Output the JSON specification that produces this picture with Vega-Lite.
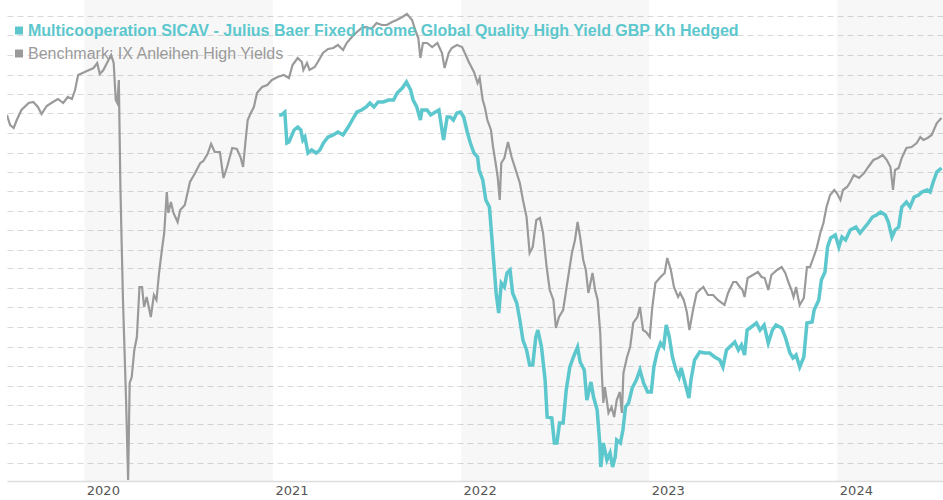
{
  "$schema": "https://vega.github.io/schema/vega-lite/v6.json",
  "autosize": "none",
  "width": 936,
  "height": 481,
  "padding": {"left": 7, "top": 0, "right": 0, "bottom": 19},
  "background": "#ffffff",
  "config": {
    "view": {"stroke": null},
    "legend": {
      "orient": "none",
      "legendX": 4,
      "legendY": 22.5,
      "padding": 0,
      "title": null,
      "symbolType": "square",
      "symbolSize": 64,
      "symbolStrokeWidth": 0,
      "labelFont": "Liberation Sans",
      "labelFontSize": 16,
      "labelOffset": 1,
      "labelLimit": 2000,
      "rowPadding": 7
    }
  },
  "datasets": {
    "bands": [
      {"start": "2020-01-01", "end": "2021-01-01"},
      {"start": "2022-01-01", "end": "2023-01-01"},
      {"start": "2024-01-01", "end": "2024-07-24"}
    ],
    "bench": [
      {"date": "2019-08-04", "value": 366}, {"date": "2019-08-10", "value": 356}, {"date": "2019-08-17", "value": 353},
      {"date": "2019-08-23", "value": 361}, {"date": "2019-09-01", "value": 371}, {"date": "2019-09-15", "value": 378},
      {"date": "2019-09-24", "value": 379}, {"date": "2019-10-03", "value": 374}, {"date": "2019-10-10", "value": 367},
      {"date": "2019-10-20", "value": 375}, {"date": "2019-11-01", "value": 379}, {"date": "2019-11-11", "value": 382},
      {"date": "2019-11-21", "value": 378}, {"date": "2019-11-30", "value": 384}, {"date": "2019-12-08", "value": 382},
      {"date": "2019-12-14", "value": 391}, {"date": "2019-12-20", "value": 406}, {"date": "2020-01-06", "value": 410},
      {"date": "2020-01-19", "value": 413}, {"date": "2020-01-26", "value": 418}, {"date": "2020-01-31", "value": 407},
      {"date": "2020-02-07", "value": 411}, {"date": "2020-02-15", "value": 419}, {"date": "2020-02-22", "value": 426},
      {"date": "2020-02-27", "value": 418}, {"date": "2020-03-02", "value": 381}, {"date": "2020-03-05", "value": 378},
      {"date": "2020-03-08", "value": 401}, {"date": "2020-03-11", "value": 294}, {"date": "2020-03-16", "value": 181},
      {"date": "2020-03-22", "value": 81}, {"date": "2020-03-26", "value": 1}, {"date": "2020-03-29", "value": 98},
      {"date": "2020-04-02", "value": 104}, {"date": "2020-04-07", "value": 131}, {"date": "2020-04-12", "value": 144},
      {"date": "2020-04-17", "value": 194}, {"date": "2020-04-22", "value": 194}, {"date": "2020-04-26", "value": 174},
      {"date": "2020-05-01", "value": 184}, {"date": "2020-05-09", "value": 164}, {"date": "2020-05-15", "value": 186},
      {"date": "2020-05-20", "value": 181}, {"date": "2020-05-25", "value": 208}, {"date": "2020-05-31", "value": 233},
      {"date": "2020-06-04", "value": 248}, {"date": "2020-06-09", "value": 289}, {"date": "2020-06-12", "value": 268},
      {"date": "2020-06-17", "value": 279}, {"date": "2020-06-22", "value": 268}, {"date": "2020-06-30", "value": 259},
      {"date": "2020-07-05", "value": 271}, {"date": "2020-07-14", "value": 276}, {"date": "2020-07-24", "value": 299},
      {"date": "2020-08-03", "value": 308}, {"date": "2020-08-13", "value": 318}, {"date": "2020-08-19", "value": 320},
      {"date": "2020-08-27", "value": 327}, {"date": "2020-09-03", "value": 337}, {"date": "2020-09-10", "value": 329},
      {"date": "2020-09-20", "value": 329}, {"date": "2020-09-27", "value": 303}, {"date": "2020-10-04", "value": 314},
      {"date": "2020-10-14", "value": 333}, {"date": "2020-10-23", "value": 332}, {"date": "2020-10-30", "value": 324},
      {"date": "2020-11-04", "value": 314}, {"date": "2020-11-09", "value": 341}, {"date": "2020-11-13", "value": 361},
      {"date": "2020-11-19", "value": 368}, {"date": "2020-11-25", "value": 374}, {"date": "2020-12-01", "value": 388},
      {"date": "2020-12-11", "value": 394}, {"date": "2020-12-21", "value": 396}, {"date": "2020-12-30", "value": 401},
      {"date": "2021-01-10", "value": 404}, {"date": "2021-01-22", "value": 406}, {"date": "2021-02-01", "value": 403},
      {"date": "2021-02-08", "value": 416}, {"date": "2021-02-18", "value": 423}, {"date": "2021-02-26", "value": 419},
      {"date": "2021-03-01", "value": 411}, {"date": "2021-03-08", "value": 418}, {"date": "2021-03-13", "value": 411},
      {"date": "2021-03-23", "value": 414}, {"date": "2021-03-29", "value": 419}, {"date": "2021-04-08", "value": 428},
      {"date": "2021-04-18", "value": 432}, {"date": "2021-04-28", "value": 433}, {"date": "2021-05-07", "value": 436},
      {"date": "2021-05-17", "value": 431}, {"date": "2021-05-24", "value": 438}, {"date": "2021-06-03", "value": 444},
      {"date": "2021-06-13", "value": 449}, {"date": "2021-06-22", "value": 453}, {"date": "2021-07-01", "value": 454},
      {"date": "2021-07-11", "value": 452}, {"date": "2021-07-21", "value": 458}, {"date": "2021-07-31", "value": 456},
      {"date": "2021-08-10", "value": 456}, {"date": "2021-08-20", "value": 459}, {"date": "2021-08-29", "value": 461},
      {"date": "2021-09-09", "value": 464}, {"date": "2021-09-18", "value": 467}, {"date": "2021-09-28", "value": 461},
      {"date": "2021-10-04", "value": 451}, {"date": "2021-10-10", "value": 443}, {"date": "2021-10-14", "value": 423},
      {"date": "2021-10-19", "value": 438}, {"date": "2021-10-27", "value": 438}, {"date": "2021-11-06", "value": 434},
      {"date": "2021-11-16", "value": 438}, {"date": "2021-11-25", "value": 428}, {"date": "2021-11-30", "value": 413},
      {"date": "2021-12-08", "value": 428}, {"date": "2021-12-14", "value": 433}, {"date": "2021-12-24", "value": 436},
      {"date": "2022-01-03", "value": 434}, {"date": "2022-01-10", "value": 426}, {"date": "2022-01-16", "value": 419},
      {"date": "2022-01-26", "value": 409}, {"date": "2022-02-02", "value": 398}, {"date": "2022-02-06", "value": 403},
      {"date": "2022-02-12", "value": 381}, {"date": "2022-02-16", "value": 374}, {"date": "2022-02-21", "value": 361},
      {"date": "2022-02-28", "value": 351}, {"date": "2022-03-04", "value": 334}, {"date": "2022-03-09", "value": 318},
      {"date": "2022-03-13", "value": 304}, {"date": "2022-03-17", "value": 281}, {"date": "2022-03-20", "value": 318},
      {"date": "2022-03-26", "value": 323}, {"date": "2022-04-02", "value": 339}, {"date": "2022-04-09", "value": 324},
      {"date": "2022-04-17", "value": 311}, {"date": "2022-04-25", "value": 298}, {"date": "2022-05-01", "value": 281},
      {"date": "2022-05-08", "value": 264}, {"date": "2022-05-14", "value": 228}, {"date": "2022-05-20", "value": 234},
      {"date": "2022-05-27", "value": 261}, {"date": "2022-06-03", "value": 263}, {"date": "2022-06-09", "value": 248},
      {"date": "2022-06-16", "value": 214}, {"date": "2022-06-22", "value": 191}, {"date": "2022-06-29", "value": 181},
      {"date": "2022-07-04", "value": 153}, {"date": "2022-07-10", "value": 164}, {"date": "2022-07-18", "value": 171},
      {"date": "2022-07-26", "value": 198}, {"date": "2022-08-04", "value": 228}, {"date": "2022-08-10", "value": 241},
      {"date": "2022-08-15", "value": 259}, {"date": "2022-08-20", "value": 244}, {"date": "2022-08-26", "value": 221},
      {"date": "2022-08-31", "value": 211}, {"date": "2022-09-05", "value": 188}, {"date": "2022-09-09", "value": 198},
      {"date": "2022-09-13", "value": 208}, {"date": "2022-09-18", "value": 191}, {"date": "2022-09-23", "value": 181},
      {"date": "2022-09-28", "value": 148}, {"date": "2022-10-01", "value": 108}, {"date": "2022-10-04", "value": 78},
      {"date": "2022-10-07", "value": 94}, {"date": "2022-10-14", "value": 68}, {"date": "2022-10-20", "value": 74},
      {"date": "2022-10-25", "value": 64}, {"date": "2022-10-30", "value": 81}, {"date": "2022-11-05", "value": 89},
      {"date": "2022-11-09", "value": 68}, {"date": "2022-11-12", "value": 108}, {"date": "2022-11-19", "value": 124},
      {"date": "2022-11-25", "value": 134}, {"date": "2022-12-01", "value": 158}, {"date": "2022-12-09", "value": 164},
      {"date": "2022-12-14", "value": 174}, {"date": "2022-12-20", "value": 151}, {"date": "2022-12-26", "value": 149},
      {"date": "2023-01-02", "value": 144}, {"date": "2023-01-07", "value": 174}, {"date": "2023-01-13", "value": 198},
      {"date": "2023-01-23", "value": 204}, {"date": "2023-01-31", "value": 208}, {"date": "2023-02-05", "value": 223},
      {"date": "2023-02-12", "value": 211}, {"date": "2023-02-18", "value": 194}, {"date": "2023-02-26", "value": 184},
      {"date": "2023-03-02", "value": 188}, {"date": "2023-03-09", "value": 181}, {"date": "2023-03-15", "value": 169},
      {"date": "2023-03-20", "value": 151}, {"date": "2023-03-27", "value": 171}, {"date": "2023-04-03", "value": 188},
      {"date": "2023-04-09", "value": 191}, {"date": "2023-04-16", "value": 194}, {"date": "2023-04-25", "value": 186},
      {"date": "2023-05-05", "value": 186}, {"date": "2023-05-14", "value": 181}, {"date": "2023-05-27", "value": 176},
      {"date": "2023-06-03", "value": 188}, {"date": "2023-06-13", "value": 199}, {"date": "2023-06-19", "value": 199},
      {"date": "2023-06-26", "value": 194}, {"date": "2023-07-01", "value": 191}, {"date": "2023-07-05", "value": 184},
      {"date": "2023-07-11", "value": 203}, {"date": "2023-07-21", "value": 206}, {"date": "2023-07-31", "value": 209},
      {"date": "2023-08-07", "value": 204}, {"date": "2023-08-13", "value": 203}, {"date": "2023-08-20", "value": 191},
      {"date": "2023-08-26", "value": 206}, {"date": "2023-09-06", "value": 211}, {"date": "2023-09-15", "value": 214},
      {"date": "2023-09-22", "value": 208}, {"date": "2023-09-28", "value": 199}, {"date": "2023-10-04", "value": 191},
      {"date": "2023-10-08", "value": 184}, {"date": "2023-10-13", "value": 194}, {"date": "2023-10-17", "value": 183},
      {"date": "2023-10-20", "value": 176}, {"date": "2023-10-28", "value": 183}, {"date": "2023-11-03", "value": 214},
      {"date": "2023-11-09", "value": 214}, {"date": "2023-11-16", "value": 224}, {"date": "2023-11-22", "value": 233},
      {"date": "2023-11-29", "value": 248}, {"date": "2023-12-05", "value": 258}, {"date": "2023-12-11", "value": 274},
      {"date": "2023-12-18", "value": 286}, {"date": "2023-12-26", "value": 291}, {"date": "2023-12-31", "value": 288},
      {"date": "2024-01-07", "value": 281}, {"date": "2024-01-12", "value": 291}, {"date": "2024-01-20", "value": 294},
      {"date": "2024-01-26", "value": 299}, {"date": "2024-02-02", "value": 306}, {"date": "2024-02-12", "value": 303},
      {"date": "2024-02-22", "value": 308}, {"date": "2024-03-01", "value": 314}, {"date": "2024-03-11", "value": 321},
      {"date": "2024-03-20", "value": 323}, {"date": "2024-03-29", "value": 326}, {"date": "2024-04-06", "value": 321},
      {"date": "2024-04-13", "value": 314}, {"date": "2024-04-18", "value": 291}, {"date": "2024-04-22", "value": 311},
      {"date": "2024-04-29", "value": 313}, {"date": "2024-05-05", "value": 323}, {"date": "2024-05-14", "value": 333},
      {"date": "2024-05-24", "value": 334}, {"date": "2024-06-03", "value": 338}, {"date": "2024-06-10", "value": 344},
      {"date": "2024-06-16", "value": 341}, {"date": "2024-06-24", "value": 343}, {"date": "2024-07-02", "value": 346},
      {"date": "2024-07-12", "value": 358}, {"date": "2024-07-21", "value": 363}
    ],
    "fund": [
      {"date": "2021-01-13", "value": 366}, {"date": "2021-01-17", "value": 366}, {"date": "2021-01-24", "value": 369},
      {"date": "2021-01-28", "value": 338}, {"date": "2021-02-01", "value": 339}, {"date": "2021-02-11", "value": 351},
      {"date": "2021-02-18", "value": 354}, {"date": "2021-02-24", "value": 351}, {"date": "2021-02-28", "value": 341},
      {"date": "2021-03-04", "value": 344}, {"date": "2021-03-10", "value": 328}, {"date": "2021-03-17", "value": 331},
      {"date": "2021-03-26", "value": 328}, {"date": "2021-04-02", "value": 331}, {"date": "2021-04-09", "value": 338},
      {"date": "2021-04-18", "value": 344}, {"date": "2021-04-28", "value": 346}, {"date": "2021-05-07", "value": 349},
      {"date": "2021-05-17", "value": 346}, {"date": "2021-05-27", "value": 354}, {"date": "2021-06-06", "value": 363},
      {"date": "2021-06-13", "value": 369}, {"date": "2021-06-22", "value": 371}, {"date": "2021-07-01", "value": 374},
      {"date": "2021-07-08", "value": 378}, {"date": "2021-07-16", "value": 374}, {"date": "2021-07-24", "value": 379},
      {"date": "2021-08-03", "value": 379}, {"date": "2021-08-13", "value": 381}, {"date": "2021-08-23", "value": 381},
      {"date": "2021-08-30", "value": 388}, {"date": "2021-09-09", "value": 393}, {"date": "2021-09-17", "value": 399},
      {"date": "2021-09-25", "value": 391}, {"date": "2021-09-30", "value": 381}, {"date": "2021-10-07", "value": 374},
      {"date": "2021-10-14", "value": 361}, {"date": "2021-10-17", "value": 371}, {"date": "2021-10-27", "value": 371},
      {"date": "2021-11-03", "value": 366}, {"date": "2021-11-09", "value": 368}, {"date": "2021-11-19", "value": 371},
      {"date": "2021-11-28", "value": 341}, {"date": "2021-12-05", "value": 364}, {"date": "2021-12-11", "value": 364},
      {"date": "2021-12-17", "value": 361}, {"date": "2021-12-24", "value": 368}, {"date": "2021-12-31", "value": 369},
      {"date": "2022-01-06", "value": 364}, {"date": "2022-01-13", "value": 349}, {"date": "2022-01-19", "value": 338},
      {"date": "2022-01-26", "value": 328}, {"date": "2022-02-02", "value": 324}, {"date": "2022-02-05", "value": 311},
      {"date": "2022-02-12", "value": 301}, {"date": "2022-02-18", "value": 281}, {"date": "2022-02-25", "value": 274},
      {"date": "2022-03-01", "value": 248}, {"date": "2022-03-07", "value": 208}, {"date": "2022-03-10", "value": 188},
      {"date": "2022-03-15", "value": 168}, {"date": "2022-03-20", "value": 198}, {"date": "2022-03-26", "value": 194},
      {"date": "2022-03-31", "value": 208}, {"date": "2022-04-06", "value": 211}, {"date": "2022-04-11", "value": 188},
      {"date": "2022-04-19", "value": 178}, {"date": "2022-04-25", "value": 161}, {"date": "2022-05-01", "value": 141},
      {"date": "2022-05-08", "value": 131}, {"date": "2022-05-14", "value": 116}, {"date": "2022-05-20", "value": 116},
      {"date": "2022-05-26", "value": 144}, {"date": "2022-05-30", "value": 151}, {"date": "2022-06-06", "value": 134},
      {"date": "2022-06-13", "value": 101}, {"date": "2022-06-17", "value": 64}, {"date": "2022-06-26", "value": 63},
      {"date": "2022-07-01", "value": 38}, {"date": "2022-07-06", "value": 38}, {"date": "2022-07-11", "value": 58},
      {"date": "2022-07-18", "value": 58}, {"date": "2022-07-24", "value": 91}, {"date": "2022-07-31", "value": 114},
      {"date": "2022-08-07", "value": 124}, {"date": "2022-08-15", "value": 134}, {"date": "2022-08-20", "value": 119},
      {"date": "2022-08-28", "value": 111}, {"date": "2022-09-02", "value": 81}, {"date": "2022-09-10", "value": 99},
      {"date": "2022-09-15", "value": 84}, {"date": "2022-09-22", "value": 71}, {"date": "2022-09-27", "value": 38},
      {"date": "2022-09-29", "value": 14}, {"date": "2022-10-04", "value": 38}, {"date": "2022-10-11", "value": 21},
      {"date": "2022-10-17", "value": 28}, {"date": "2022-10-22", "value": 14}, {"date": "2022-10-27", "value": 24},
      {"date": "2022-10-30", "value": 41}, {"date": "2022-11-06", "value": 38}, {"date": "2022-11-11", "value": 51},
      {"date": "2022-11-16", "value": 74}, {"date": "2022-11-22", "value": 78}, {"date": "2022-11-29", "value": 93},
      {"date": "2022-12-07", "value": 101}, {"date": "2022-12-14", "value": 111}, {"date": "2022-12-21", "value": 98},
      {"date": "2022-12-29", "value": 89}, {"date": "2023-01-05", "value": 89}, {"date": "2023-01-10", "value": 114},
      {"date": "2023-01-16", "value": 128}, {"date": "2023-01-23", "value": 138}, {"date": "2023-01-29", "value": 134},
      {"date": "2023-02-03", "value": 156}, {"date": "2023-02-09", "value": 144}, {"date": "2023-02-15", "value": 124},
      {"date": "2023-02-22", "value": 111}, {"date": "2023-02-28", "value": 104}, {"date": "2023-03-04", "value": 113},
      {"date": "2023-03-10", "value": 101}, {"date": "2023-03-19", "value": 83}, {"date": "2023-03-23", "value": 101},
      {"date": "2023-03-30", "value": 121}, {"date": "2023-04-09", "value": 129}, {"date": "2023-04-19", "value": 128},
      {"date": "2023-04-28", "value": 128}, {"date": "2023-05-08", "value": 124}, {"date": "2023-05-18", "value": 121},
      {"date": "2023-05-24", "value": 114}, {"date": "2023-05-31", "value": 131}, {"date": "2023-06-10", "value": 136},
      {"date": "2023-06-16", "value": 139}, {"date": "2023-06-23", "value": 131}, {"date": "2023-06-29", "value": 136},
      {"date": "2023-07-05", "value": 126}, {"date": "2023-07-10", "value": 151}, {"date": "2023-07-18", "value": 154},
      {"date": "2023-07-28", "value": 158}, {"date": "2023-08-04", "value": 151}, {"date": "2023-08-12", "value": 156},
      {"date": "2023-08-20", "value": 138}, {"date": "2023-08-28", "value": 151}, {"date": "2023-09-04", "value": 156},
      {"date": "2023-09-15", "value": 153}, {"date": "2023-09-22", "value": 144}, {"date": "2023-10-01", "value": 128},
      {"date": "2023-10-07", "value": 123}, {"date": "2023-10-13", "value": 126}, {"date": "2023-10-20", "value": 114},
      {"date": "2023-10-28", "value": 124}, {"date": "2023-11-03", "value": 158}, {"date": "2023-11-13", "value": 159},
      {"date": "2023-11-17", "value": 171}, {"date": "2023-11-26", "value": 181}, {"date": "2023-12-01", "value": 201},
      {"date": "2023-12-08", "value": 209}, {"date": "2023-12-13", "value": 234}, {"date": "2023-12-19", "value": 243},
      {"date": "2023-12-28", "value": 246}, {"date": "2024-01-04", "value": 234}, {"date": "2024-01-10", "value": 244},
      {"date": "2024-01-17", "value": 241}, {"date": "2024-01-26", "value": 251}, {"date": "2024-02-06", "value": 254},
      {"date": "2024-02-14", "value": 248}, {"date": "2024-02-22", "value": 253}, {"date": "2024-03-01", "value": 258},
      {"date": "2024-03-09", "value": 264}, {"date": "2024-03-17", "value": 266}, {"date": "2024-03-25", "value": 269},
      {"date": "2024-04-03", "value": 266}, {"date": "2024-04-09", "value": 259}, {"date": "2024-04-16", "value": 244},
      {"date": "2024-04-22", "value": 251}, {"date": "2024-04-29", "value": 254}, {"date": "2024-05-05", "value": 274},
      {"date": "2024-05-14", "value": 279}, {"date": "2024-05-21", "value": 274}, {"date": "2024-05-29", "value": 284},
      {"date": "2024-06-07", "value": 286}, {"date": "2024-06-13", "value": 289}, {"date": "2024-06-23", "value": 291},
      {"date": "2024-06-29", "value": 289}, {"date": "2024-07-05", "value": 299}, {"date": "2024-07-12", "value": 309},
      {"date": "2024-07-21", "value": 313}
    ]
  },
  "layer": [
    {
      "data": {"name": "bands"},
      "mark": {"type": "rect", "fill": "#000000", "opacity": 0.03, "clip": true},
      "encoding": {
        "x": {"field": "start", "type": "temporal", "scale": {"type": "utc", "domain": [{"year": 2019, "month": 8, "date": 4, "utc": true}, {"year": 2024, "month": 7, "date": 24, "utc": true}]}},
        "x2": {"field": "end"}
      }
    },
    {
      "data": {"name": "bench"},
      "mark": {"type": "line", "strokeWidth": 2.2, "clip": true, "interpolate": "linear"},
      "encoding": {
        "x": {
          "field": "date", "type": "temporal", "title": null,
          "axis": {
            "format": "%Y", "formatType": "time",
            "values": [
              {"year": 2020, "month": 1, "date": 1, "utc": true},
              {"year": 2021, "month": 1, "date": 1, "utc": true},
              {"year": 2022, "month": 1, "date": 1, "utc": true},
              {"year": 2023, "month": 1, "date": 1, "utc": true},
              {"year": 2024, "month": 1, "date": 1, "utc": true}
            ],
            "tickCount": 30,
            "labelAlign": "left", "labelOffset": 2, "labelPadding": 3,
            "labelFont": "DejaVu Sans", "labelFontSize": 13, "labelColor": "#555555",
            "ticks": false, "grid": false,
            "domainColor": "#dddddd", "domainWidth": 1.5
          }
        },
        "y": {
          "field": "value", "type": "quantitative", "title": null,
          "scale": {"domain": [0, 481], "nice": false, "zero": false},
          "axis": {
            "labels": false, "ticks": false, "domain": false, "grid": true,
            "gridColor": "#d9d9d9", "gridDash": [6, 4], "gridWidth": 1,
            "tickCount": 60,
            "values": [18, 38, 57, 76, 95, 115, 134, 154, 174, 193, 213, 231, 251, 270, 290, 309, 328, 348, 368, 387, 406, 426, 446, 465]
          }
        },
        "color": {
          "datum": "Benchmark: IX Anleihen High Yields", "type": "nominal",
          "scale": {
            "domain": ["Multicooperation SICAV - Julius Baer Fixed Income Global Quality High Yield GBP Kh Hedged", "Benchmark: IX Anleihen High Yields"],
            "range": ["#5cc7cd", "#9a9a9a"]
          },
          "legend": {
            "encode": {
              "labels": {"update": {
                "fill": {"signal": "datum.value === 'Benchmark: IX Anleihen High Yields' ? '#9a9a9a' : '#5cc7cd'"},
                "fontWeight": {"signal": "datum.value === 'Benchmark: IX Anleihen High Yields' ? 'normal' : 'bold'"}
              }},
              "symbols": {"update": {
                "fill": {"signal": "datum.value === 'Benchmark: IX Anleihen High Yields' ? '#9a9a9a' : '#5cc7cd'"},
                "stroke": {"value": "transparent"},
                "opacity": {"value": 1}
              }}
            }
          }
        }
      }
    },
    {
      "data": {"name": "fund"},
      "mark": {"type": "line", "strokeWidth": 3.5, "clip": true, "interpolate": "linear"},
      "encoding": {
        "x": {"field": "date", "type": "temporal"},
        "y": {"field": "value", "type": "quantitative"},
        "color": {"datum": "Multicooperation SICAV - Julius Baer Fixed Income Global Quality High Yield GBP Kh Hedged", "type": "nominal"}
      }
    }
  ]
}
